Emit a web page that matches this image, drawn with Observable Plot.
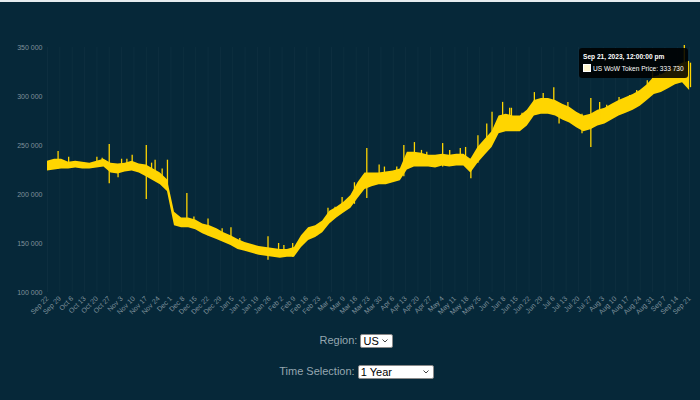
<!DOCTYPE html>
<html>
<head>
<meta charset="utf-8">
<script src="https://cdn.jsdelivr.net/npm/d3@7"></script>
<script src="https://cdn.jsdelivr.net/npm/@observablehq/plot@0.6"></script>
<style>
  html, body { margin: 0; padding: 0; }
  body { background: #062839; border-top: 2px solid #e6ecef; width: 700px; height: 398px; overflow: hidden;
         font-family: Arial, "Liberation Sans", sans-serif; }
  #wrap { position: relative; width: 700px; height: 318px; }
  #tip { position: absolute; background: rgba(0,0,0,0.88); border-radius: 3px; color: #fff;
         font-size: 6.6px; padding: 3px 4px 3px 4px; white-space: nowrap; line-height: 12px; }
  #tip .t { font-weight: bold; }
  #tip .sw { display: inline-block; width: 6px; height: 6px; background: #fff6d0; border: 1px solid #fff;
             vertical-align: -1px; margin-right: 2px; }
  .ctl { text-align: center; color: #95a7b0; font-size: 11px; height: 20px; line-height: 20px; padding-left: 13px; }
  .ctl select { font-size: 11px; font-family: Arial, "Liberation Sans", sans-serif; color: #000;
                -webkit-appearance: none; appearance: none;
                background: #fff url("data:image/svg+xml;utf8,<svg xmlns='http://www.w3.org/2000/svg' width='6' height='4'><path d='M0.5 0.5 L3 3 L5.5 0.5' fill='none' stroke='%23444' stroke-width='1'/></svg>") no-repeat right 4px center;
                border: 1px solid #8a8a8a; border-radius: 2px; height: 14px; line-height: 12px; padding: 0 10px 0 2px; vertical-align: middle; }
</style>
</head>
<body>
<div id="wrap"></div>
<div class="ctl" style="margin-top:10px">Region: <select style="width:33px"><option>US</option><option>EU</option><option>KR</option><option>TW</option></select></div>
<div class="ctl" style="margin-top:11px">Time Selection: <select style="width:76px"><option>1 Year</option><option>1 Month</option><option>3 Months</option><option>6 Months</option><option>All</option></select></div>
<script>
// ---- data (prices in thousands), band samples every 4 days from startDate ----
const startDate = "2022-09-22";
const endDate = "2023-09-21T12:00:00Z";
const stepDays = 4;
const bandLow = [224,225,226,226,227,226,226,227,228,222,221,223,224,222,218,214,210,203,168,166,166,164,160,157,154,151,148,144,142,140,138,137,136,135,136,136,146,153,156,161,170,176,181,186,196,205,208,210,210,212,214,225,228,228,228,227,229,228,229,229,222,232,240,248,262,264,264,264,270,280,282,282,280,276,273,268,264,266,270,272,276,280,283,286,290,296,302,304,308,312,314,306];
const bandHigh = [234,236,236,233,234,233,232,234,236,232,231,232,234,231,230,226,222,215,182,176,176,174,170,168,165,161,158,154,151,149,147,146,145,144,144,146,158,166,168,173,183,187,192,199,212,222,222,222,223,224,226,243,243,242,240,240,241,240,241,241,236,248,256,264,280,282,280,280,286,296,298,298,296,292,289,284,280,282,286,288,292,296,299,302,306,312,320,322,326,330,334,336];
const spikeDates = ["2022-09-28","2022-10-04","2022-10-20","2022-10-23","2022-10-27","2022-11-01","2022-11-03","2022-11-06","2022-11-09","2022-11-17","2022-11-20","2022-11-22","2022-11-26","2022-11-29","2022-12-10","2022-12-14","2022-12-22","2022-12-26","2022-12-30","2023-01-04","2023-01-09","2023-01-12","2023-01-17","2023-01-21","2023-01-25","2023-01-31","2023-02-03","2023-02-08","2023-02-16","2023-02-22","2023-02-28","2023-03-04","2023-03-08","2023-03-15","2023-03-22","2023-03-29","2023-04-01","2023-04-08","2023-04-12","2023-04-18","2023-04-22","2023-04-25","2023-05-04","2023-05-08","2023-05-14","2023-05-17","2023-05-20","2023-05-24","2023-05-29","2023-06-01","2023-06-07","2023-06-11","2023-06-12","2023-06-18","2023-06-25","2023-06-30","2023-07-06","2023-07-09","2023-07-14","2023-07-22","2023-07-27","2023-08-01","2023-08-05","2023-08-12","2023-08-18","2023-08-22","2023-08-28","2023-08-31","2023-09-04","2023-09-18","2023-09-21T12:00:00Z"];
const spikeLow  = [226,229,229,229,211,217,224,224,229,195,216,214,210,205,168,168,158,157,154,150,146,144,140,139,133,138,138,136,153,158,172,176,182,190,196,215,215,216,218,230,232,232,228,232,233,233,216,232,250,255,266,270,265,270,286,286,285,272,280,262,248,276,278,283,288,292,300,305,308,318,309];
const spikeHigh = [244,238,238,237,251,229,236,236,240,250,232,235,226,235,201,177,175,163,165,166,155,150,148,146,157,150,148,150,163,168,186,187,197,212,247,230,228,228,250,253,245,243,252,245,247,248,236,260,272,284,294,288,288,283,304,303,309,290,294,282,298,294,291,299,301,306,316,327,323,352,334];
const yTicks = [100000,150000,200000,250000,300000,350000];
const xTickLabels = ["2022-09-22","2022-09-29","2022-10-06","2022-10-13","2022-10-20","2022-10-27","2022-11-03","2022-11-10","2022-11-17","2022-11-24","2022-12-01","2022-12-08","2022-12-15","2022-12-22","2022-12-29","2023-01-05","2023-01-12","2023-01-19","2023-01-26","2023-02-02","2023-02-09","2023-02-16","2023-02-23","2023-03-02","2023-03-09","2023-03-16","2023-03-23","2023-03-30","2023-04-06","2023-04-13","2023-04-20","2023-04-27","2023-05-04","2023-05-11","2023-05-18","2023-05-25","2023-06-01","2023-06-08","2023-06-15","2023-06-22","2023-06-29","2023-07-06","2023-07-13","2023-07-20","2023-07-27","2023-08-03","2023-08-10","2023-08-17","2023-08-24","2023-08-31","2023-09-07","2023-09-14","2023-09-21"];
const tipSeries = "US WoW Token Price";
const tipDate = "2023-09-21T12:00:00Z";
const tipValue = 333730;

// ---- build tables ----
const t0 = new Date(startDate + "T00:00:00Z");
const band = bandLow.map((l, i) => ({date: new Date(+t0 + i * stepDays * 864e5), lo: l * 1000, hi: bandHigh[i] * 1000}));
const parse = s => new Date(s.length > 10 ? s : s + "T00:00:00Z");
const spikes = spikeDates.map((d, i) => ({date: parse(d), lo: spikeLow[i] * 1000, hi: spikeHigh[i] * 1000}));
const ticks = xTickLabels.map(parse);

const gold = "#ffd500";
const loc = d3.formatLocale({decimal: ".", thousands: " ", grouping: [3], currency: ["", ""]});
const fmt = loc.format(",d");

const chart = Plot.plot({
  width: 700, height: 318,
  marginTop: 45, marginBottom: 28, marginLeft: 47, marginRight: 10,
  style: {background: "transparent", color: "#7f919b", fontFamily: "Arial, 'Liberation Sans', sans-serif", fontSize: "7px"},
  x: {type: "utc", domain: [t0, parse(endDate)], ticks: ticks, tickFormat: d3.utcFormat("%b %-d"),
      tickRotate: -45, tickSize: 0, tickPadding: 5, label: null},
  y: {domain: [100000, 350000], ticks: yTicks, tickFormat: fmt, tickSize: 0, tickPadding: 5, label: null},
  marks: [
    Plot.gridX(ticks, {stroke: "#ffffff", strokeOpacity: 0.03}),
    Plot.areaY(band, {x: "date", y1: "lo", y2: "hi", fill: gold}),
    Plot.ruleX(spikes, {x: "date", y1: "lo", y2: "hi", stroke: gold, strokeWidth: 1.3})
  ]
});
const wrap = document.getElementById("wrap");
wrap.appendChild(chart);

// ---- tooltip anchored to the last point through the chart's scales ----
const tip = document.createElement("div");
tip.id = "tip";
const tf = d3.utcFormat("%b %-d, %Y, %-I:%M:%S %p");
tip.innerHTML = `<div class="t">${tf(parse(tipDate)).replace(/AM|PM/, s => s.toLowerCase())}</div>` +
  `<div><span class="sw"></span>${tipSeries}: ${fmt(tipValue)}</div>`;
wrap.appendChild(tip);
const px = chart.scale("x").apply(parse(tipDate));
const py = chart.scale("y").apply(tipValue);
tip.style.left = (px - 2 - tip.offsetWidth) + "px";
tip.style.top = (py - tip.offsetHeight / 2) + "px";
</script>
</body>
</html>
